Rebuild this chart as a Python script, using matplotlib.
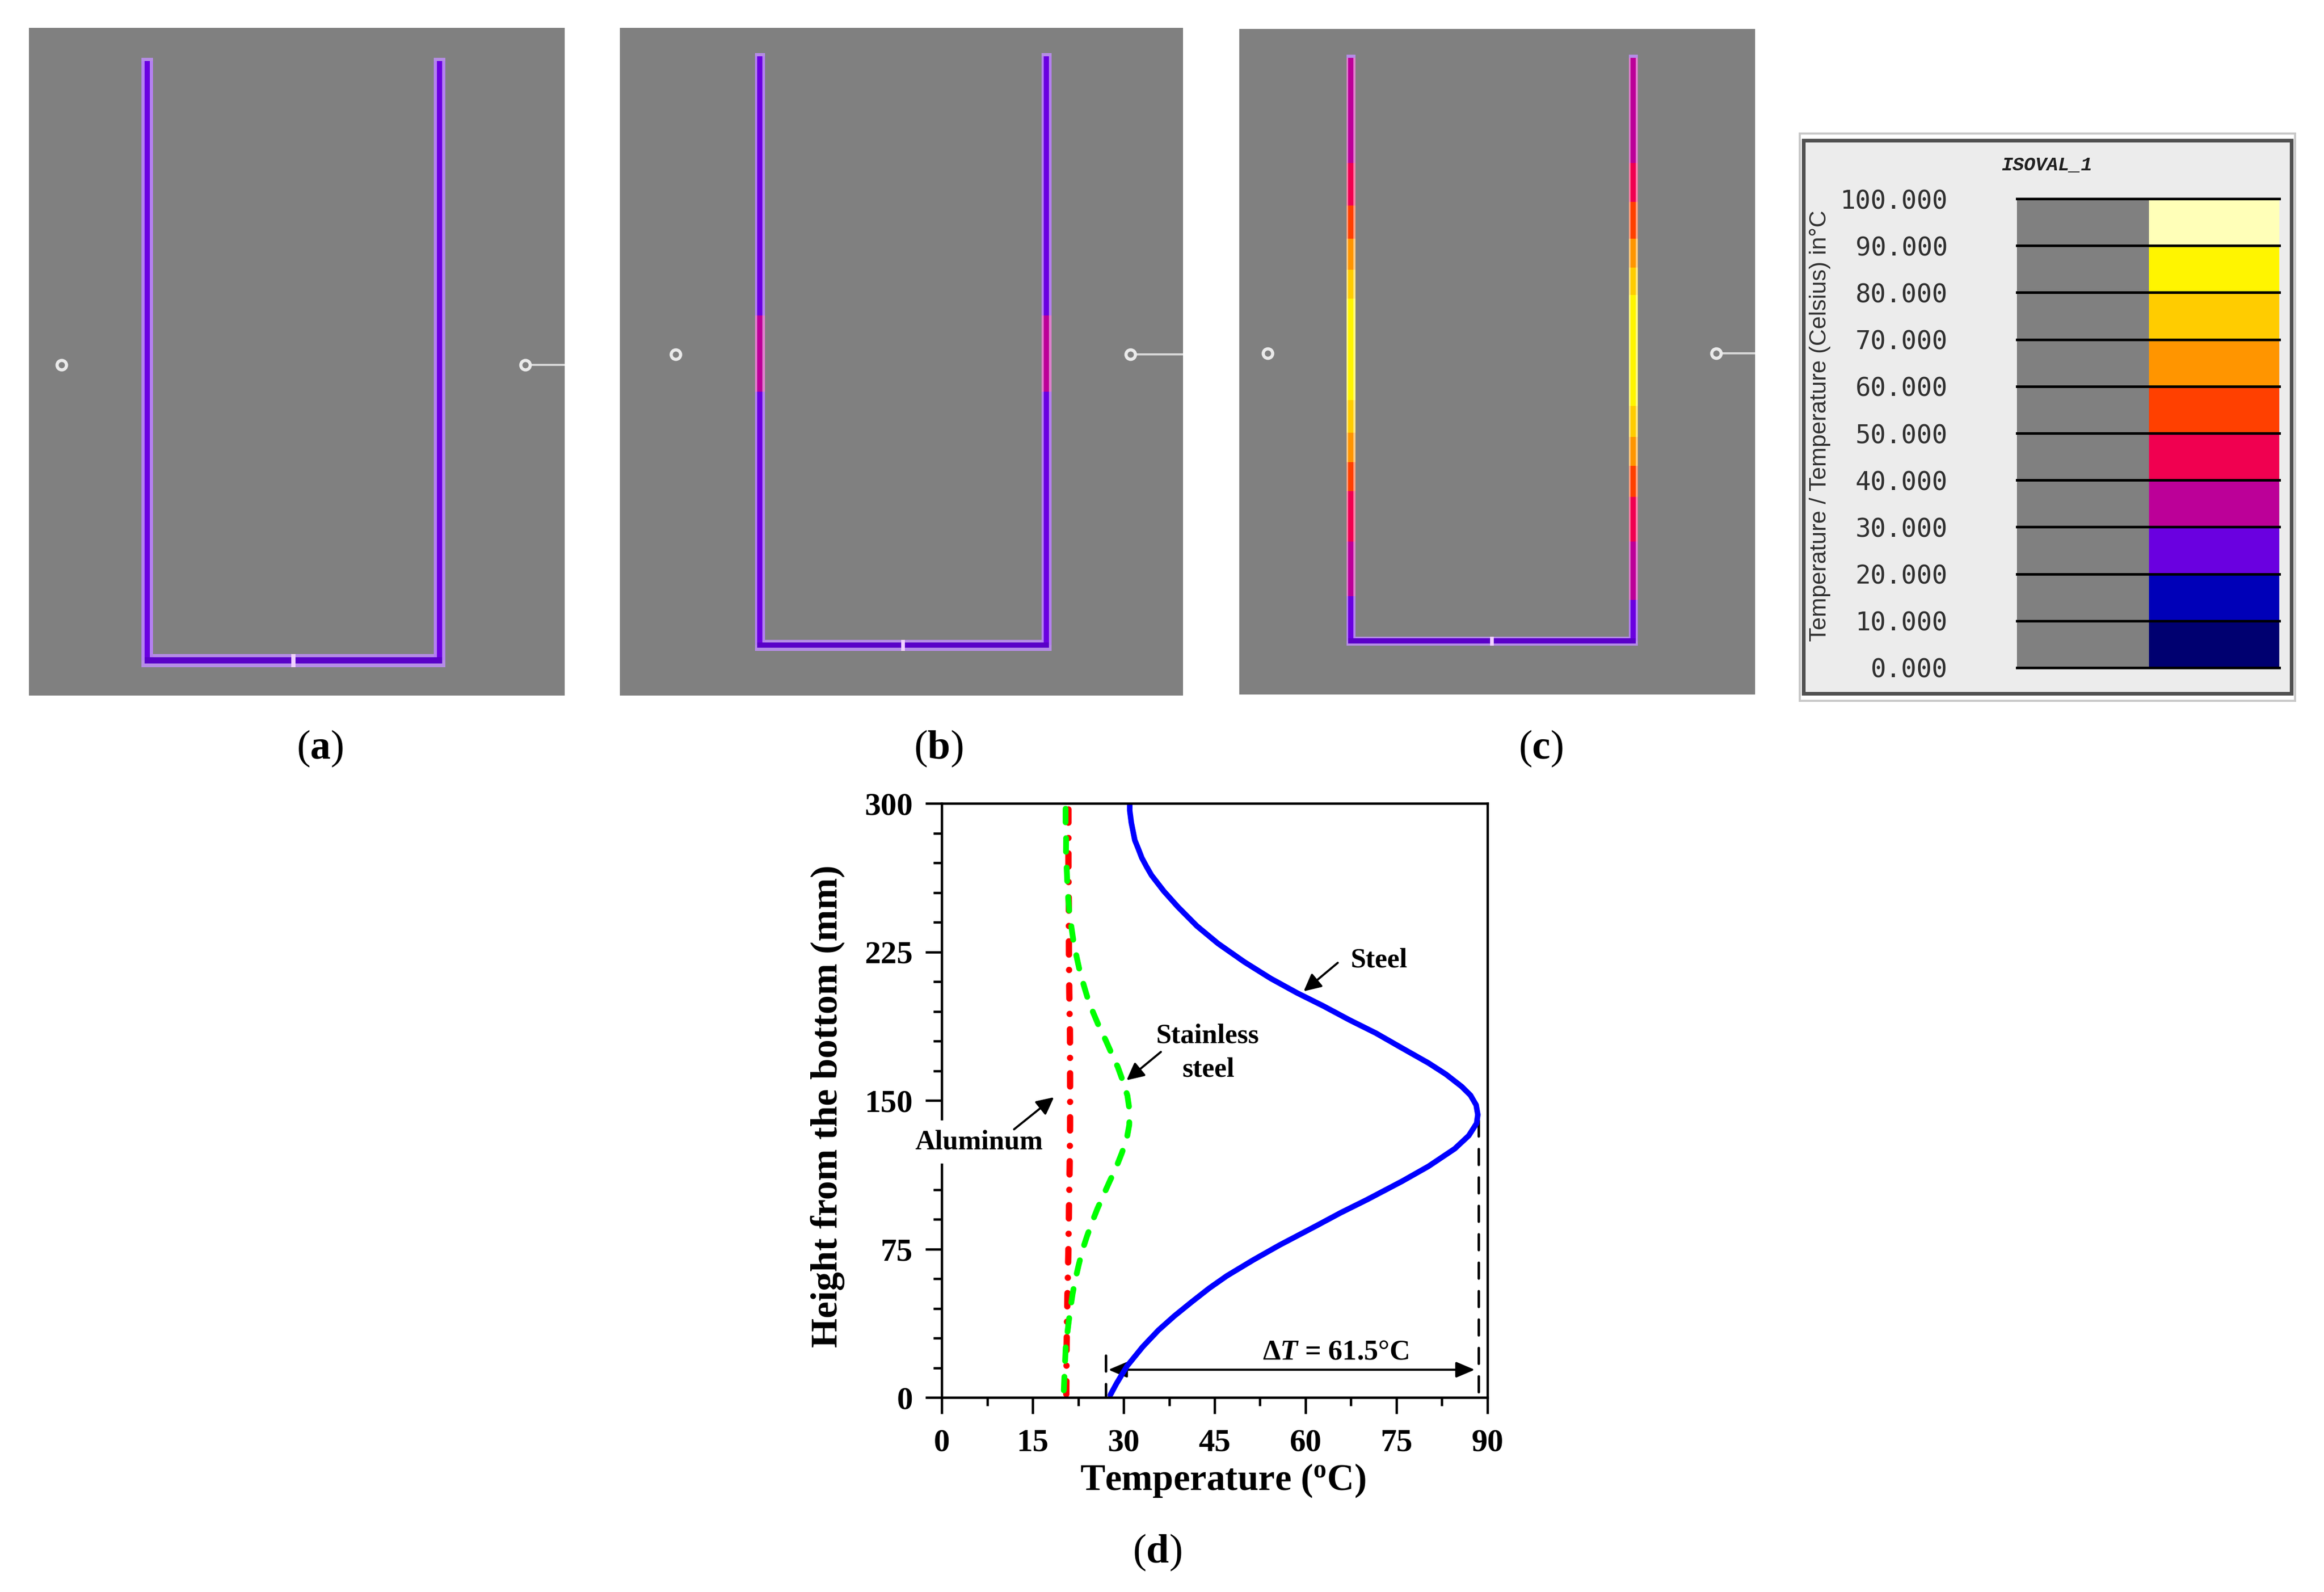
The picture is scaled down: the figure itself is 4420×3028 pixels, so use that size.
import matplotlib
matplotlib.use('Agg')
import matplotlib.pyplot as plt
from matplotlib.colors import ListedColormap, BoundaryNorm, to_rgb

plt.rcParams['font.family'] = ['Liberation Serif', 'DejaVu Serif']
plt.rcParams['font.weight'] = 'bold'
plt.rcParams['mathtext.fontset'] = 'custom'
plt.rcParams['mathtext.bf'] = 'Liberation Serif:bold'
plt.rcParams['mathtext.it'] = 'Liberation Serif:italic:bold'
plt.rcParams['mathtext.rm'] = 'Liberation Serif:bold'

W, H = 4420, 3028

# colour scale of the simulation output
levels = [0, 10, 20, 30, 40, 50, 60, 70, 80, 90, 100]
level_labels = ['0.000', '10.000', '20.000', '30.000', '40.000', '50.000',
                '60.000', '70.000', '80.000', '90.000', '100.000']
level_colors = ['#000070', '#0000B8', '#6A00E0', '#BC0098', '#F00050',
                '#FF4000', '#FF9500', '#FFCC00', '#FFF500', '#FFFFB8']

# wall bands: height edges (mm) and temperature inside each band
a_edges = [0, 300]
a_temps = [25]
b_edges = [0, 129, 168, 300]
b_temps = [25, 35, 25]
c_left_edges = [0, 23, 51, 77, 92, 107, 124, 176, 191, 207, 224, 246, 300]
c_right_edges = [0, 21, 51, 74, 90, 105, 121, 178, 192, 207, 226, 246, 300]
c_temps = [25, 35, 45, 55, 65, 75, 85, 75, 65, 55, 45, 35]
vessel_width = 150
vessel_height = 300
sensor_x = [-44, 194]
sensor_h = 148

# measured profiles
steel_t = [27.8, 28.82, 30.55, 33.15, 35.75, 38.35, 41.25, 44.13, 47.02, 51.36, 55.69,
           61.48, 65.81, 70.15, 75.93, 80.26, 84.6, 86.91, 88.21, 88.41, 88.13, 87.2,
           85.75, 83.15, 80.26, 75.93, 71.59, 67.26, 62.92, 58.59, 54.25, 49.92, 45.58,
           42.11, 38.93, 36.62, 35.61, 34.6, 33.77, 33, 32.43, 31.85, 31.56, 31.27, 31.01, 31.01]
steel_h = [1.2, 7, 15.8, 25.6, 34, 41.1, 48.3, 55.2, 61.4, 69.4, 76.9,
           86.2, 93.3, 99.9, 109.2, 116.7, 125.6, 132.2, 138.4, 142.8, 147.7, 152.6,
           157, 163.2, 168.9, 176.4, 184, 190.6, 197.7, 204.3, 211.6, 219.9, 229.2,
           238, 247.8, 255.7, 259.7, 263.7, 268.1, 272.5, 277, 281.4, 285.8, 290.2, 296.4, 300]
# stainless runs from the top down so the dashes fall where they do in the figure
stainless_t = [20.43, 20.43, 20.52, 20.49, 20.61, 20.72, 20.87, 21.05, 21.39, 21.74, 22.22,
               22.75, 23.41, 24.13, 25, 25.98, 27.03, 28.07, 29.05, 29.91, 30.63, 30.98,
               30.93, 30.5, 29.68, 28.76, 27.72, 26.71, 25.69, 24.77, 23.96, 23.18, 22.6,
               22.05, 21.59, 21.24, 20.92, 20.46, 20.1]
stainless_h = [297.3, 288.9, 281.8, 274.3, 267.2, 259.3, 252.2, 244.7, 237.6, 230.1, 223,
               215.5, 208.4, 201, 194.2, 187.1, 180.5, 173.3, 166.8, 159.5, 152.4, 144.9,
               137.6, 130.3, 123.2, 116.1, 109.3, 102.4, 95.4, 88.3, 81.4, 74.1, 67,
               59.7, 52.4, 45.1, 37.6, 26, 1.1]
aluminum_t = [20.55, 20.6, 20.66, 20.72, 20.87, 20.98, 21.1, 21.18, 21.18, 21.16, 21.04,
              20.98, 20.96, 20.9, 20.9, 20.9]
aluminum_h = [1.6, 26, 38, 49.1, 71.1, 93.4, 115.5, 137.5, 159.8, 182.4, 204.4,
              226.4, 248.7, 270.8, 292.8, 297.6]
dt_low = 27.08
dt_high = 88.55
dt_arrow_h = 14

cmap = ListedColormap(level_colors)
norm = BoundaryNorm(levels, cmap.N)


def px_box(x0, y0, x1, y1):
    return [x0 / W, 1 - y1 / H, (x1 - x0) / W, (y1 - y0) / H]


def lw(px):
    return px * 0.72


def pale(color, k):
    return tuple(c + (1 - c) * k for c in to_rgb(color))


def draw_vessel(fig, box, left, right, top, bottom, wall, floor, core, left_edges, right_edges, temps):
    x0, y0, x1, y1 = box
    ax = fig.add_axes(px_box(*box))
    sx = (right - left) / vessel_width
    sy = (bottom - top) / vessel_height
    ax.set_xlim((x0 - left) / sx, (x1 - left) / sx)
    ax.set_ylim((bottom - y1) / sy, (bottom - y0) / sy)
    ax.axis('off')
    ax.add_patch(plt.Rectangle((0, 0), 1, 1, transform=ax.transAxes, color='#808080', zorder=0))
    w = wall / sx / 2
    f = floor / sy / 2
    floor_col = '#5A00C8'
    # pale rim first, the saturated core goes on top of it
    ax.fill_between([-w, vessel_width + w], -f, f, color=pale(floor_col, 0.55), lw=0)
    for xc, edges in ((0, left_edges), (vessel_width, right_edges)):
        ax.fill_betweenx([vessel_height - 1, vessel_height + 1.5], xc - w, xc + w, color=pale(floor_col, 0.55), lw=0)
        for i, t in enumerate(temps):
            col = cmap(norm(t))
            ax.fill_betweenx([edges[i], edges[i + 1]], xc - w, xc + w, color=pale(col, 0.5), lw=0)
            ax.fill_betweenx([edges[i], edges[i + 1]], xc - w * core, xc + w * core, color=col, lw=0)
    ax.fill_between([-w * core, vessel_width + w * core], -f * core, f * core, color=floor_col, lw=0)
    ax.fill_between([vessel_width / 2 - 1, vessel_width / 2 + 1], -f, f, color='#F0D0FF', lw=0)
    # sensor rings and lead wire
    ax.plot([sensor_x[1] + 2, ax.get_xlim()[1]], [sensor_h, sensor_h], color='#D8D8D8', lw=lw(4))
    ax.plot(sensor_x, [sensor_h, sensor_h], ls='none', marker='o', ms=lw(18), mfc='#808080',
            mec='#EAEAEA', mew=lw(6))
    return ax


fig = plt.figure(figsize=(W / 100, H / 100), dpi=100, facecolor='white')

draw_vessel(fig, (55, 53, 1074, 1323), 280, 836, 116, 1256, 22, 25, 0.45, a_edges, a_edges, a_temps)
draw_vessel(fig, (1179, 53, 2250, 1323), 1445, 1990, 107, 1227, 19, 21, 0.5, b_edges, b_edges, b_temps)
draw_vessel(fig, (2357, 55, 3338, 1321), 2569, 3106, 110, 1219, 17, 17, 0.6, c_left_edges, c_right_edges, c_temps)

# legend panel
fig.add_artist(plt.Rectangle((3423 / W, 1 - 1333 / H), 942 / W, 1079 / H, transform=fig.transFigure,
                             fc='none', ec='#C8C8C8', lw=lw(4)))
frame = fig.add_axes(px_box(3430, 267, 4358, 1319))
frame.set_xticks([])
frame.set_yticks([])
frame.set_facecolor('#ECECEC')
for sp in frame.spines.values():
    sp.set_color('#505050')
    sp.set_linewidth(lw(7))

leg = fig.add_axes(px_box(3836, 378, 4335, 1270))
leg.set_xlim(0, 1.985)
leg.set_ylim(0, 100)
for i in range(len(level_colors)):
    leg.barh(levels[i], 1, height=10, left=0, align='edge', color='#808080', lw=0)
    leg.barh(levels[i], 1, height=10, left=1, align='edge', color=level_colors[i], lw=0)
for lv in levels:
    leg.axhline(lv, color='black', lw=lw(5), clip_on=False)
leg.set_xticks([])
leg.set_yticks(levels)
leg.set_yticklabels(level_labels, family='DejaVu Sans Mono', fontsize=35, color='#303030', weight='normal')
leg.tick_params(axis='y', length=0, pad=(3836 - 3704) * 0.72)
for sp in leg.spines.values():
    sp.set_visible(False)
fig.text(3893 / W, 1 - 314 / H, 'ISOVAL_1', family='Liberation Mono', style='italic', weight='bold',
         fontsize=26, color='#202020', ha='center', va='center')
fig.text(3461 / W, 1 - 810 / H, 'Temperature / Temperature (Celsius) in°C', family='Liberation Sans',
         weight='normal', fontsize=32, color='#303030', rotation=90, ha='center', va='center')

# temperature profile chart
ax = fig.add_axes(px_box(1791, 1528, 2829, 2658))
ax.plot(aluminum_t, aluminum_h, color='#FF0000', lw=lw(12), ls=(0, (2.1, 2.43, 0.01, 2.43)), dash_capstyle='round')
ax.plot(stainless_t, stainless_h, color='#00FF00', lw=lw(11), ls=(0, (2.36, 2.73)), dash_capstyle='round')
ax.plot(steel_t, steel_h, color='#0000FF', lw=lw(10.5), solid_joinstyle='round', solid_capstyle='round')
ax.set_xlim(0, 90)
ax.set_ylim(0, 300)
ax.set_xticks(range(0, 91, 15))
ax.set_yticks(range(0, 301, 75))
ax.set_xticks([7.5 + 15 * i for i in range(6)], minor=True)
ax.set_yticks([v for v in range(0, 301, 15) if v % 75], minor=True)
ax.tick_params(which='major', length=lw(31), width=lw(4.5), labelsize=44)
ax.tick_params(axis='x', which='major', pad=lw(27))
ax.tick_params(axis='y', which='major', pad=lw(24))
ax.tick_params(which='minor', length=lw(16), width=lw(4.5))
for sp in ax.spines.values():
    sp.set_linewidth(lw(4.5))
ax.set_xlabel('Temperature ($\\mathbf{^{o}}$C)', fontsize=51, weight='bold', va='center')
ax.set_ylabel('Height from the bottom (mm)', fontsize=52, weight='bold', va='center')
ax.xaxis.set_label_coords(0.515, -158 / 1130)
ax.yaxis.set_label_coords(-217 / 1038, 0.49)

# delta T construction
ax.plot([dt_high, dt_high], [140, 0], color='black', lw=lw(4.7), ls=(0, (6.4, 5.1)), dash_capstyle='round', zorder=1.5)
ax.plot([dt_low, dt_low], [21.2, 0], color='black', lw=lw(4.7), ls=(0, (6.4, 5.1)), dash_capstyle='round', zorder=1.5)
ax.annotate('', xy=(27.5, dt_arrow_h), xytext=(87.9, dt_arrow_h), zorder=1,
            arrowprops=dict(arrowstyle='<|-|>,head_length=0.4,head_width=0.17', color='black', lw=lw(4),
                            mutation_scale=54, shrinkA=0, shrinkB=0))
ax.text(64.95, 22.6, 'Δ$\\mathit{T}$ = 61.5°C', fontsize=39, ha='center', va='center')


def callout(label, text_xy, start, end, **kw):
    ax.text(text_xy[0], text_xy[1], label, fontsize=38, ha='center', va='center', **kw)
    ax.annotate('', xy=end, xytext=start, zorder=7,
                arrowprops=dict(arrowstyle='-|>', color='black', lw=lw(4), mutation_scale=50,
                                shrinkA=0, shrinkB=0))


callout('Steel', (72.1, 220.7), (65.32, 219.5), (59.69, 205.1))
callout('Stainless', (43.8, 182.6), (36.15, 174.5), (30.49, 160.2))
ax.text(44, 165.6, 'steel', fontsize=38, ha='center', va='center')
callout('Aluminum', (6.2, 129), (11.93, 135.4), (18.51, 151.6), clip_on=False, zorder=6,
        bbox=dict(fc='white', ec='none', pad=12))

# captions
for label, x, y in (('a', 609, 1424), ('b', 1785, 1424), ('c', 2930, 1424), ('d', 2201, 2953)):
    fig.text(x / W, 1 - y / H, '($\\mathbf{%s}$)' % label, fontsize=56, weight='normal', ha='center', va='center')

fig.savefig('out.png', dpi=100)
